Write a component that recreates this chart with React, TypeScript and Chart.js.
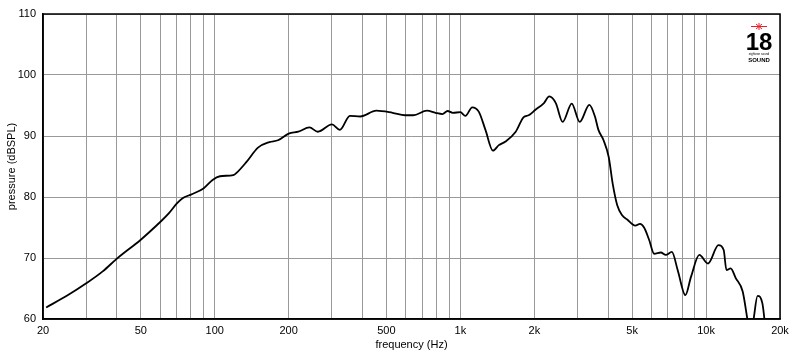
import React, { useEffect, useRef } from "react";
import { Chart, registerables } from "chart.js";

Chart.register(...registerables);

const freqHz = [
  20.6, 25, 30, 35, 40, 50, 60, 65, 70, 74, 80, 90, 98, 105, 119, 123, 135, 150, 167, 181,
  200, 219, 243, 263, 300, 323, 355, 391, 455, 530, 595, 643, 731, 792, 845, 887, 931, 1000,
  1048, 1117, 1188, 1265, 1357, 1434, 1527, 1680, 1810, 1897, 2021, 2189, 2300, 2446, 2608,
  2840, 3060, 3349, 3530, 3647, 3826, 4014, 4168, 4347, 4555, 4777, 5150, 5385, 5594, 5864,
  6151, 6546, 6859, 7259, 7668, 8239, 8683, 9389, 10187, 11234, 11797, 12112, 12593, 13210,
  14098, 14800, 15150, 15550, 16210, 16950, 17500,
];
const splDb = [
  61.9, 63.8, 65.85, 67.8, 69.9, 73.0, 75.9, 77.3, 78.9, 79.8, 80.4, 81.4, 82.8, 83.4, 83.6,
  84.0, 85.8, 88.1, 89.0, 89.3, 90.4, 90.7, 91.4, 90.7, 91.9, 91.0, 93.3, 93.2, 94.15, 93.8,
  93.4, 93.4, 94.15, 93.8, 93.6, 94.1, 93.8, 93.9, 93.3, 94.7, 94.0, 91.0, 87.6, 88.5, 89.1,
  90.7, 93.1, 93.4, 94.3, 95.4, 96.5, 95.4, 92.3, 95.3, 92.3, 95.1, 93.2, 91.0, 89.3, 86.6,
  82.2, 78.7, 77.0, 76.3, 75.3, 75.6, 75.0, 73.0, 70.7, 70.9, 70.5, 71.0, 68.0, 63.9, 66.9,
  70.5, 69.1, 72.1, 71.3, 68.0, 68.3, 66.7, 64.5, 59.5, 57.5, 59.5, 63.8, 62.6, 58,
];

const gridFreqs = [
  20, 30, 40, 50, 60, 70, 80, 90, 100, 200, 300, 400, 500, 600, 700, 800, 900, 1000, 2000,
  3000, 4000, 5000, 6000, 7000, 8000, 9000, 10000, 20000,
];
const labeledFreqs = [20, 50, 100, 200, 500, 1000, 2000, 5000, 10000, 20000];
const yMin = 60;
const yMax = 110;
const yStep = 10;

const xTitle = "frequency (Hz)";
const yTitle = "pressure (dBSPL)";

const FONT = "'Liberation Sans', Arial, Helvetica, sans-serif";

function fmtFreq(v: number): string {
  return v >= 1000 ? v / 1000 + "k" : String(v);
}

const framePlugin = {
  id: "frame",
  afterDraw(chart: any) {
    const { ctx, chartArea } = chart;
    ctx.save();
    ctx.strokeStyle = "#000";
    ctx.lineWidth = 1.5;
    ctx.strokeRect(chartArea.left, chartArea.top, chartArea.right - chartArea.left, chartArea.bottom - chartArea.top);
    // logo
    const cx = 759;
    ctx.strokeStyle = "#e8202a";
    ctx.lineWidth = 1;
    ctx.beginPath();
    ctx.moveTo(751, 26.5);
    ctx.lineTo(767, 26.5);
    ctx.moveTo(cx, 23);
    ctx.lineTo(cx, 30);
    ctx.moveTo(cx - 3, 24);
    ctx.lineTo(cx + 3, 29);
    ctx.moveTo(cx + 3, 24);
    ctx.lineTo(cx - 3, 29);
    ctx.stroke();
    ctx.fillStyle = "#000";
    ctx.textAlign = "center";
    ctx.textBaseline = "alphabetic";
    ctx.font = "bold 24px 'Liberation Sans Narrow', 'Liberation Sans', sans-serif";
    ctx.fillText("18", cx, 50);
    ctx.font = "3px 'Liberation Sans', sans-serif";
    ctx.fillText("eighteen sound", cx, 55);
    ctx.font = "bold 6px 'Liberation Sans', sans-serif";
    ctx.fillText("SOUND", cx, 61.5);
    ctx.restore();
  },
};

export default function App() {
  const ref = useRef<HTMLCanvasElement>(null);
  useEffect(() => {
    if (!ref.current) return;
    const chart = new Chart(ref.current, {
      type: "line",
      data: {
        datasets: [
          {
            data: freqHz.map((f, i) => ({ x: f, y: splDb[i] })),
            borderColor: "#000",
            borderWidth: 1.8,
            pointRadius: 0,
            cubicInterpolationMode: "monotone",
            fill: false,
          },
        ],
      },
      options: {
        animation: false,
        responsive: false,
        layout: { padding: { top: 14, right: 20, left: 0, bottom: 0 } },
        plugins: { legend: { display: false }, tooltip: { enabled: false } },
        scales: {
          x: {
            type: "logarithmic",
            min: 20,
            max: 20000,
            afterBuildTicks: (s: any) => {
              s.ticks = gridFreqs.map((v) => ({ value: v }));
            },
            afterFit: (s: any) => {
              s.height = 36;
            },
            ticks: {
              autoSkip: false,
              maxRotation: 0,
              padding: 5,
              color: "#000",
              font: { family: FONT, size: 11 },
              callback: (v: any) => (labeledFreqs.includes(Number(v)) ? fmtFreq(Number(v)) : ""),
            },
            grid: { color: "#999", drawTicks: false, lineWidth: 1 },
            border: { display: true, color: "#000", width: 1.5 },
            title: { display: true, text: xTitle, color: "#000", font: { family: FONT, size: 11 }, padding: { top: 0, bottom: 3 } },
          },
          y: {
            type: "linear",
            min: yMin,
            max: yMax,
            afterFit: (s: any) => {
              s.width = 43;
            },
            ticks: {
              stepSize: yStep,
              padding: 7,
              color: "#000",
              font: { family: FONT, size: 11 },
            },
            grid: { color: "#999", drawTicks: false, lineWidth: 1 },
            border: { display: true, color: "#000", width: 1.5 },
            title: { display: true, text: yTitle, color: "#000", font: { family: FONT, size: 11 }, padding: { top: 5, bottom: 0 } },
          },
        },
      } as any,
      plugins: [framePlugin],
    });
    return () => chart.destroy();
  }, []);
  return (
    <div style={{ position: "absolute", left: 0, top: 0, width: 800, height: 355, background: "#fff" }}>
      <canvas ref={ref} width={800} height={355} />
    </div>
  );
}
